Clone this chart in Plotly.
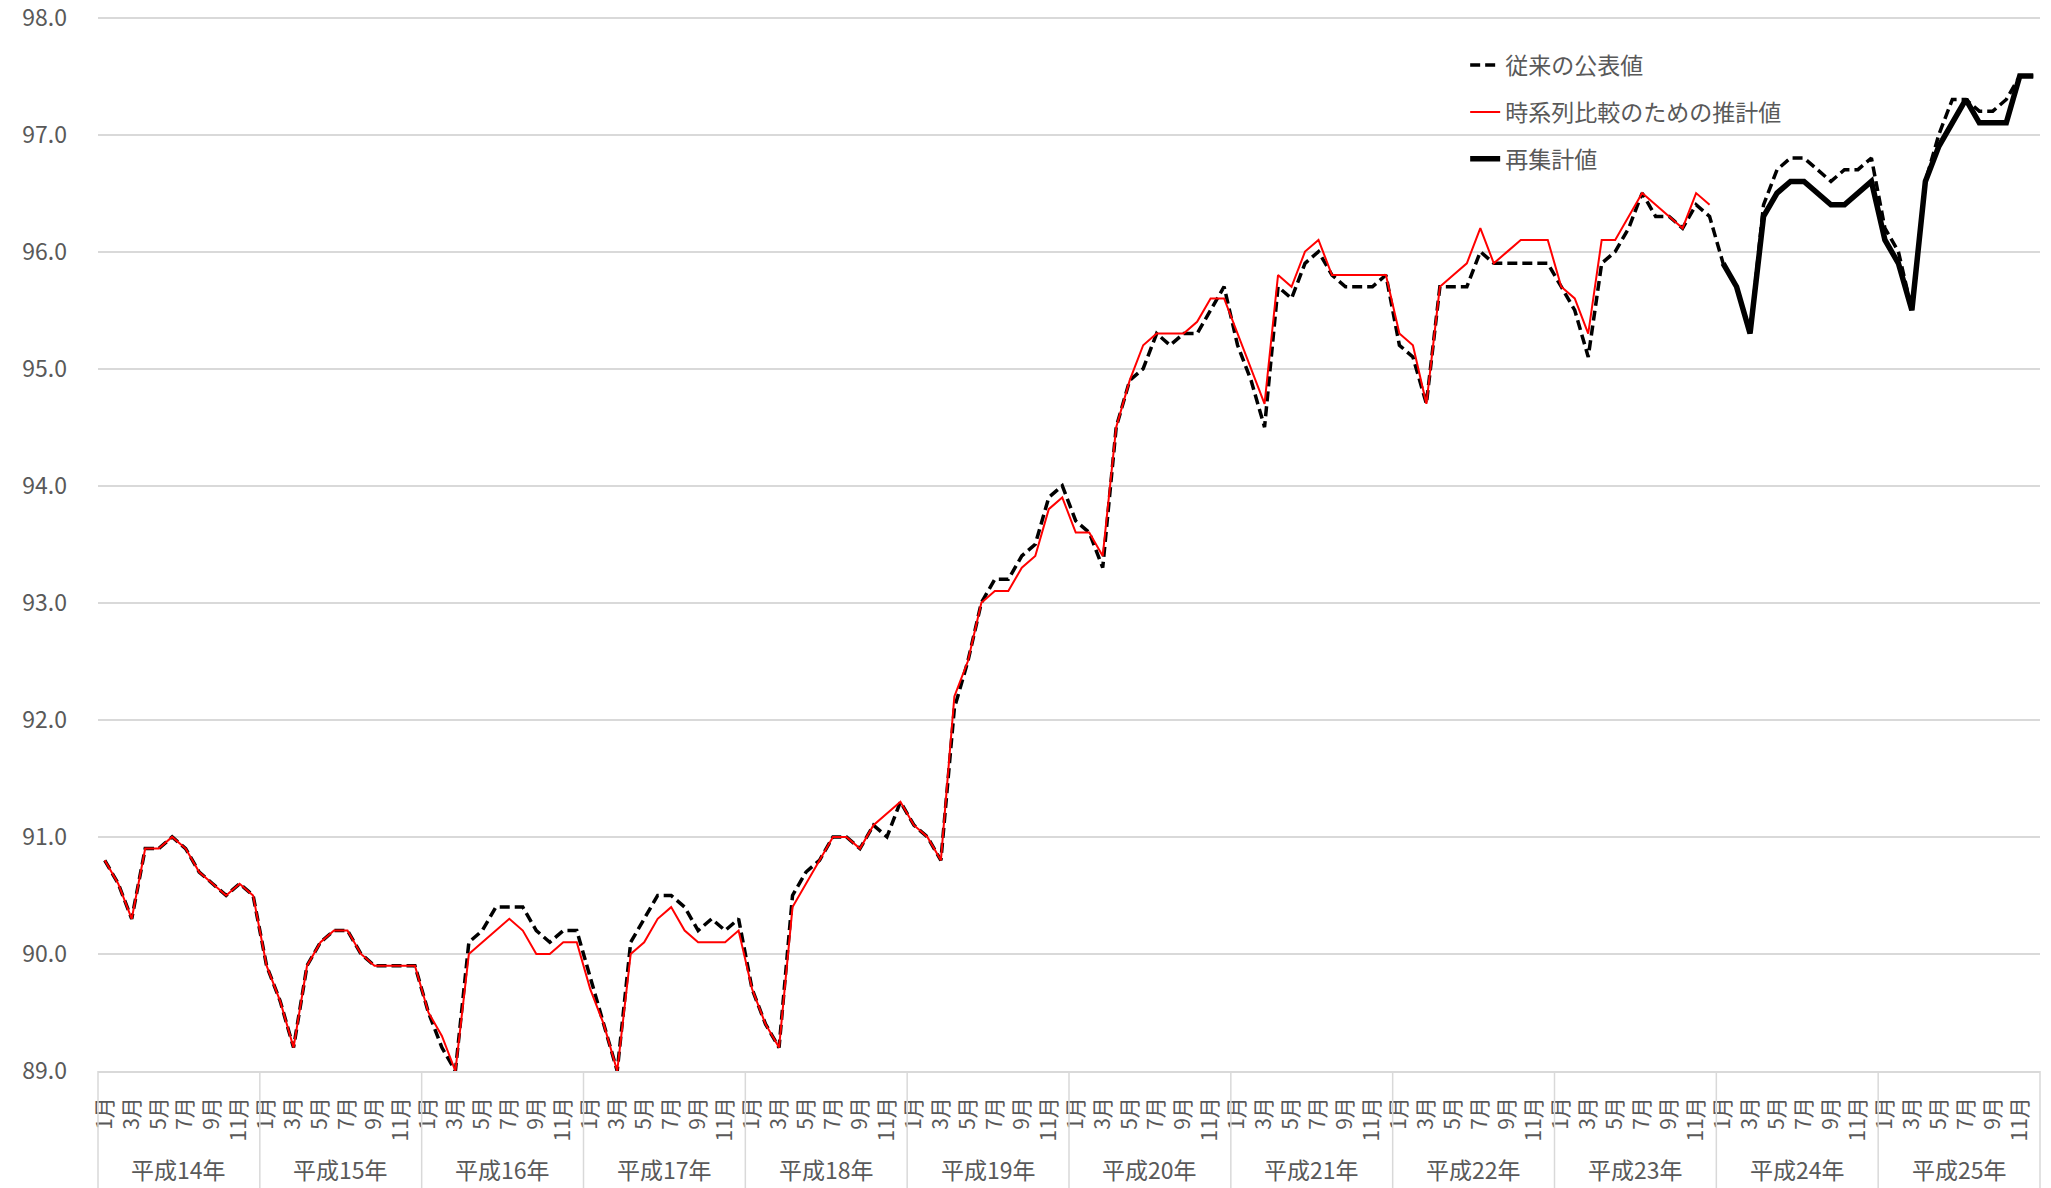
import plotly.graph_objects as go

years = ["平成14年", "平成15年", "平成16年", "平成17年", "平成18年", "平成19年",
         "平成20年", "平成21年", "平成22年", "平成23年", "平成24年", "平成25年"]
month_labels = ["1月", "3月", "5月", "7月", "9月", "11月"]
y_ticks = [89.0, 90.0, 91.0, 92.0, 93.0, 94.0, 95.0, 96.0, 97.0, 98.0]

# 従来の公表値 (H14.1 - H25.12)
published = [
    90.8, 90.6, 90.3, 90.9, 90.9, 91.0, 90.9, 90.7, 90.6, 90.5, 90.6, 90.5,
    89.9, 89.6, 89.2, 89.9, 90.1, 90.2, 90.2, 90.0, 89.9, 89.9, 89.9, 89.9,
    89.5, 89.2, 89.0, 90.1, 90.2, 90.4, 90.4, 90.4, 90.2, 90.1, 90.2, 90.2,
    89.8, 89.4, 89.0, 90.1, 90.3, 90.5, 90.5, 90.4, 90.2, 90.3, 90.2, 90.3,
    89.7, 89.4, 89.2, 90.5, 90.7, 90.8, 91.0, 91.0, 90.9, 91.1, 91.0, 91.3,
    91.1, 91.0, 90.8, 92.1, 92.5, 93.0, 93.2, 93.2, 93.4, 93.5, 93.9, 94.0,
    93.7, 93.6, 93.3, 94.5, 94.9, 95.0, 95.3, 95.2, 95.3, 95.3, 95.5, 95.7,
    95.2, 94.9, 94.5, 95.7, 95.6, 95.9, 96.0, 95.8, 95.7, 95.7, 95.7, 95.8,
    95.2, 95.1, 94.7, 95.7, 95.7, 95.7, 96.0, 95.9, 95.9, 95.9, 95.9, 95.9,
    95.7, 95.5, 95.1, 95.9, 96.0, 96.2, 96.5, 96.3, 96.3, 96.2, 96.4, 96.3,
    95.9, 95.7, 95.3, 96.4, 96.7, 96.8, 96.8, 96.7, 96.6, 96.7, 96.7, 96.8,
    96.2, 96.0, 95.5, 96.6, 97.0, 97.3, 97.3, 97.2, 97.2, 97.3, 97.5, 97.5,
]

# 時系列比較のための推計値 (H14.1 - H23.12)
estimated = [
    90.8, 90.6, 90.3, 90.9, 90.9, 91.0, 90.9, 90.7, 90.6, 90.5, 90.6, 90.5,
    89.9, 89.6, 89.2, 89.9, 90.1, 90.2, 90.2, 90.0, 89.9, 89.9, 89.9, 89.9,
    89.5, 89.3, 89.0, 90.0, 90.1, 90.2, 90.3, 90.2, 90.0, 90.0, 90.1, 90.1,
    89.7, 89.4, 89.0, 90.0, 90.1, 90.3, 90.4, 90.2, 90.1, 90.1, 90.1, 90.2,
    89.7, 89.4, 89.2, 90.4, 90.6, 90.8, 91.0, 91.0, 90.9, 91.1, 91.2, 91.3,
    91.1, 91.0, 90.8, 92.2, 92.5, 93.0, 93.1, 93.1, 93.3, 93.4, 93.8, 93.9,
    93.6, 93.6, 93.4, 94.5, 94.9, 95.2, 95.3, 95.3, 95.3, 95.4, 95.6, 95.6,
    95.3, 95.0, 94.7, 95.8, 95.7, 96.0, 96.1, 95.8, 95.8, 95.8, 95.8, 95.8,
    95.3, 95.2, 94.7, 95.7, 95.8, 95.9, 96.2, 95.9, 96.0, 96.1, 96.1, 96.1,
    95.7, 95.6, 95.3, 96.1, 96.1, 96.3, 96.5, 96.4, 96.3, 96.2, 96.5, 96.4,
]

# 再集計値 (H24.1 - H25.12)
recount = [
    95.9, 95.7, 95.3, 96.3, 96.5, 96.6, 96.6, 96.5, 96.4, 96.4, 96.5, 96.6,
    96.1, 95.9, 95.5, 96.6, 96.9, 97.1, 97.3, 97.1, 97.1, 97.1, 97.5, 97.5,
]

n = len(years) * 12
x_all = list(range(n))
x_est = x_all[:len(estimated)]
x_rec = x_all[n - len(recount):]

FONT = "Noto Sans CJK JP, Noto Sans, sans-serif"
GRAY = "#595959"
GRID = "#d9d9d9"

fig = go.Figure()
fig.add_trace(go.Scatter(
    x=x_all, y=published, mode="lines", name="従来の公表値", legendgroup="a",
    line=dict(color="#000000", width=3.5, dash="10px,5px"),
))
fig.add_trace(go.Scatter(
    x=x_est, y=estimated, mode="lines", name="時系列比較のための推計値", legendgroup="b",
    line=dict(color="#ff0000", width=2),
))
fig.add_trace(go.Scatter(
    x=x_rec, y=recount, mode="lines", name="再集計値", legendgroup="c",
    line=dict(color="#000000", width=5.5),
))

tickvals = [k * 12 + 2 * j for k in range(len(years)) for j in range(len(month_labels))]
ticktext = month_labels * len(years)

annotations = []
for k, yr in enumerate(years):
    annotations.append(dict(
        x=k * 12 + 5.5, xref="x", y=-0.093, yref="paper",
        text=yr, showarrow=False, xanchor="center", yanchor="middle",
        font=dict(size=23, color=GRAY, family=FONT),
    ))

shapes = []
for k in range(len(years) + 1):
    shapes.append(dict(
        type="line", xref="paper", yref="paper",
        x0=k / len(years), x1=k / len(years), y0=0, y1=-0.115,
        line=dict(color=GRID, width=1.5),
    ))

fig.update_layout(
    width=2051, height=1188, autosize=False,
    margin=dict(l=98, r=11, t=14, b=117),
    paper_bgcolor="white", plot_bgcolor="white",
    font=dict(family=FONT, color=GRAY, size=22),
    showlegend=True,
    legend=dict(
        x=0.704, y=0.972, xanchor="left", yanchor="top",
        font=dict(size=23, color=GRAY, family=FONT),
        bgcolor="rgba(0,0,0,0)", traceorder="grouped", tracegroupgap=14,
    ),
    annotations=annotations,
    shapes=shapes,
)
fig.update_xaxes(
    range=[-0.5, n - 0.5], tickmode="array", tickvals=tickvals, ticktext=ticktext,
    tickangle=-90, showgrid=False, zeroline=False, showline=True,
    linecolor=GRID, linewidth=1.5, ticks="", ticklabelstandoff=16,
    tickfont=dict(size=21, color=GRAY, family=FONT), automargin=False,
)
fig.update_yaxes(
    range=[y_ticks[0], y_ticks[-1] + 0.03], tickmode="array", tickvals=y_ticks,
    tickformat=".1f", showgrid=True, gridcolor=GRID, gridwidth=1.5,
    zeroline=False, showline=False, ticks="", ticklabelstandoff=30,
    ticklabeloverflow="allow",
    tickfont=dict(size=23, color=GRAY, family=FONT), automargin=False,
)

fig.write_html("out.html", config={"displayModeBar": False},
               post_script="document.body.style.margin='0px';")
